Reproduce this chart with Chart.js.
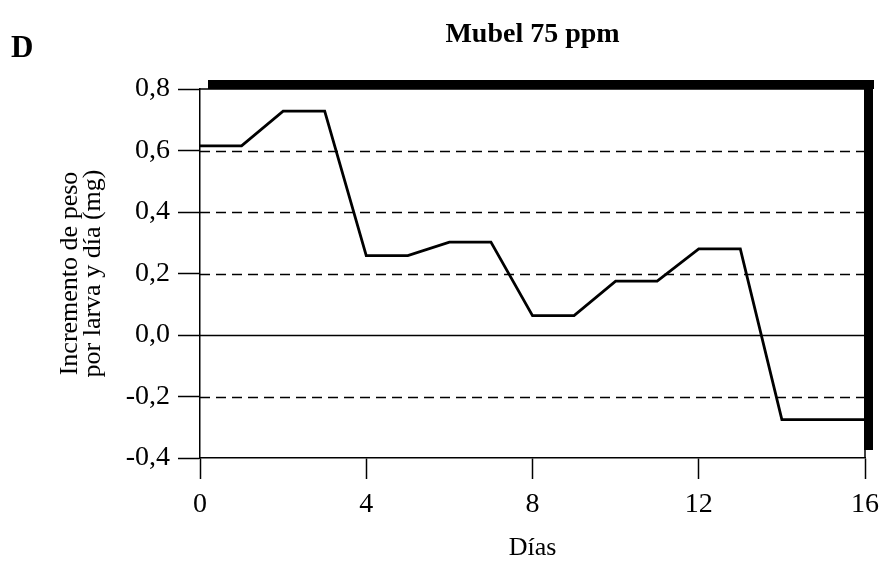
<!DOCTYPE html>
<html>
<head>
<meta charset="utf-8">
<script src="https://cdn.jsdelivr.net/npm/chart.js@4/dist/chart.umd.min.js"></script>
<style>
  html, body { margin: 0; background: #fff; }
  #wrap { width: 880px; height: 561px; position: relative; }
</style>
</head>
<body>
<div id="wrap"><canvas id="chart"></canvas></div>
<script>
// Mubel 75 ppm — weight gain per larva and day (panel D)

const DAYS = [0, 1, 2, 3, 4, 5, 6, 7, 8, 9, 10, 11, 12, 13, 14, 15, 16];
const GAIN = [0.615, 0.615, 0.728, 0.728, 0.258, 0.258, 0.302, 0.302, 0.063, 0.063,
              0.175, 0.175, 0.28, 0.28, -0.275, -0.275, -0.275];
const X_TICKS = [0, 4, 8, 12, 16];
const Y_TICKS = [-0.4, -0.2, 0, 0.2, 0.4, 0.6, 0.8];
const SOLID_Y = [0, -0.4];

const SERIF = "'Liberation Serif', 'Times New Roman', serif";
const INK = '#000';

// dashed / solid horizontal rules behind the line
const gridRules = {
  id: 'gridRules',
  beforeDatasetsDraw(chart) {
    const { ctx, chartArea: a, scales: { y } } = chart;
    ctx.save();
    ctx.strokeStyle = INK;
    ctx.lineWidth = 1.5;
    Y_TICKS.forEach(v => {
      if (v === 0.8 || v === -0.4) return;
      const py = Math.round(y.getPixelForValue(v)) + 0.5;
      ctx.setLineDash(SOLID_Y.includes(v) ? [] : [10, 6]);
      ctx.beginPath();
      ctx.moveTo(a.left, py);
      ctx.lineTo(a.right, py);
      ctx.stroke();
    });
    ctx.restore();
  },
};

// heavy top/right frame (shadow look) + panel letter and title
const frame = {
  id: 'frame',
  afterDraw(chart) {
    const { ctx, chartArea: a } = chart;
    ctx.save();
    ctx.strokeStyle = INK;
    ctx.lineWidth = 1.5;
    ctx.beginPath();
    ctx.moveTo(a.left, a.top);
    ctx.lineTo(a.right, a.top);
    ctx.lineTo(a.right, a.bottom);
    ctx.stroke();
    ctx.fillStyle = INK;
    ctx.fillRect(a.left + 8, a.top - 9, a.right - a.left + 1, 9);
    ctx.fillRect(a.right - 1, a.top - 9, 9, a.bottom - a.top + 1);

    ctx.textBaseline = 'alphabetic';
    ctx.textAlign = 'left';
    ctx.font = `bold 31px ${SERIF}`;
    ctx.fillText('D', 11, 57);
    ctx.textAlign = 'center';
    ctx.font = `bold 28px ${SERIF}`;
    ctx.fillText('Mubel 75 ppm', (a.left + a.right) / 2, 42);
    ctx.restore();
  },
};

new Chart(document.getElementById('chart'), {
  type: 'line',
  data: {
    datasets: [{
      data: DAYS.map((d, i) => ({ x: d, y: GAIN[i] })),
      borderColor: INK,
      borderWidth: 2.8,
      pointRadius: 0,
      tension: 0,
      fill: false,
    }],
  },
  options: {
    responsive: true,
    maintainAspectRatio: false,
    animation: false,
    layout: { padding: { top: 89, right: 15, left: 0, bottom: 0 } },
    plugins: { legend: { display: false }, tooltip: { enabled: false } },
    scales: {
      x: {
        type: 'linear',
        min: 0, max: 16,
        afterBuildTicks: s => { s.ticks = X_TICKS.map(v => ({ value: v })); },
        afterFit: s => { s.height = 103; s.paddingLeft = 0; s.paddingRight = 0; },
        ticks: { color: INK, font: { family: SERIF, size: 28 }, padding: 9, maxRotation: 0 },
        grid: { drawOnChartArea: false, tickLength: 21, tickColor: INK, tickWidth: 1.5 },
        border: { color: INK, width: 1.5 },
        title: { display: true, text: 'Días', color: INK, font: { family: SERIF, size: 26, lineHeight: 1.0 }, padding: { top: 0, bottom: 0 } },
      },
      y: {
        min: -0.4, max: 0.8,
        afterBuildTicks: s => { s.ticks = Y_TICKS.map(v => ({ value: v })); },
        afterFit: s => { s.width = 200; s.paddingTop = 0; s.paddingBottom = 0; },
        ticks: {
          color: INK, font: { family: SERIF, size: 28 }, padding: 8,
          callback: v => v.toFixed(1).replace('.', ','),
        },
        grid: { drawOnChartArea: false, tickLength: 22, tickColor: INK, tickWidth: 1.5 },
        border: { color: INK, width: 1.5 },
        title: {
          display: true, text: ['Incremento de peso', 'por larva y día (mg)'], color: INK,
          font: { family: SERIF, size: 26, lineHeight: 0.9 }, padding: { top: 58, bottom: 0 },
        },
      },
    },
  },
  plugins: [gridRules, frame],
});
</script>
</body>
</html>
